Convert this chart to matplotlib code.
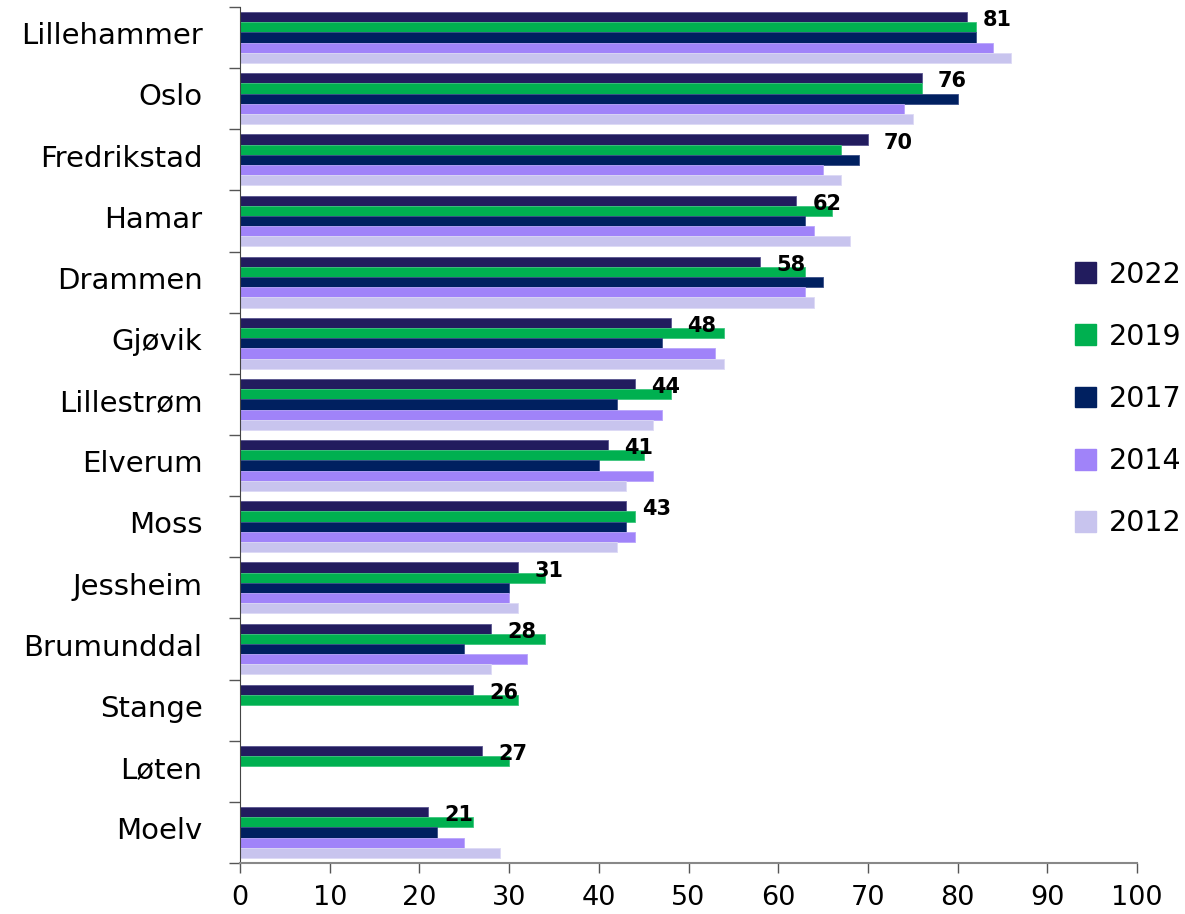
import numpy as np
import matplotlib
matplotlib.use("Agg")
import matplotlib.pyplot as plt
from matplotlib.patches import Patch

categories = ["Lillehammer", "Oslo", "Fredrikstad", "Hamar", "Drammen", "Gjøvik",
              "Lillestrøm", "Elverum", "Moss", "Jessheim", "Brumunddal", "Stange",
              "Løten", "Moelv"]
series_names = ["2022", "2019", "2017", "2014", "2012"]
nan = np.nan
v2022 = [81, 76, 70, 62, 58, 48, 44, 41, 43, 31, 28, 26, 27, 21]
v2019 = [82, 76, 67, 66, 63, 54, 48, 45, 44, 34, 34, 31, 30, 26]
v2017 = [82, 80, 69, 63, 65, 47, 42, 40, 43, 30, 25, nan, nan, 22]
v2014 = [84, 74, 65, 64, 63, 53, 47, 46, 44, 30, 32, nan, nan, 25]
v2012 = [86, 75, 67, 68, 64, 54, 46, 43, 42, 31, 28, nan, nan, 29]
xticks = [0, 10, 20, 30, 40, 50, 60, 70, 80, 90, 100]

colors = ["#221C5E", "#00B050", "#002060", "#A083F9", "#C8C4EE"]
edges = ["#5A5690", "#3CC67C", "#3A4F88", "#B9A5FB", "#DCD9F5"]

plt.rcParams['font.family'] = ['DejaVu Sans']
fig = plt.figure(figsize=(11.85, 9.14), dpi=100)
ax = fig.add_axes([240/1185, 1-863/914, (1137-240)/1185, (863-7)/914])

y = np.arange(len(categories))
h = 0.166
all_series = [v2022, v2019, v2017, v2014, v2012]
for k, (vals, col, ec) in enumerate(zip(all_series, colors, edges)):
    vals = np.array(vals, dtype=float)
    mask = ~np.isnan(vals)
    ax.barh(y[mask] + (k - 2) * h, vals[mask], height=h, color=col,
            edgecolor=ec, linewidth=0.6)

for i, v in enumerate(v2022):
    ax.text(v + 1.8, i - 2 * h + 0.05, f"{v}", va="center", ha="left",
            fontsize=15, fontweight="bold", color="black")

ax.set_xlim(0, 100)
ax.set_ylim(len(categories) - 0.5, -0.5)
ax.set_xticks(xticks)
ax.set_xticklabels([str(t) for t in xticks], fontsize=19.5)
ax.set_yticks(y - 0.07)
ax.set_yticklabels(categories, fontsize=21)
ax.tick_params(axis='y', which='major', length=0, pad=27)
ax.set_yticks(np.arange(-0.5, len(categories), 1), minor=True)
ax.tick_params(axis='y', which='minor', length=8, color="#555555", width=1)
ax.tick_params(axis='x', length=7, color="#555555", width=1, pad=9)

for s in ["top", "right"]:
    ax.spines[s].set_visible(False)
ax.spines["left"].set_color("#444444")
ax.spines["bottom"].set_color("#888888")
ax.spines["bottom"].set_linewidth(1.5)

handles = [Patch(facecolor=c, edgecolor=c) for c in colors]
fig.legend(handles, series_names, loc="center left",
           bbox_to_anchor=(1075/1185, 1 - 399/914), frameon=False,
           fontsize=20.5, handlelength=0.75, handleheight=0.75,
           labelspacing=1.2, handletextpad=0.45, borderpad=0, borderaxespad=0)

fig.savefig("out.png", dpi=100)
